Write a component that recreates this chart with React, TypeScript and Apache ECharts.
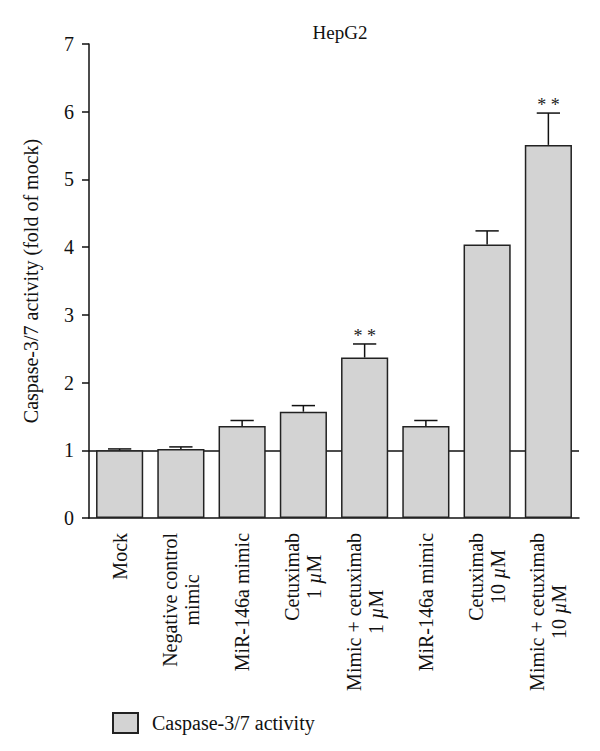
import React, { useEffect, useRef } from "react";
import * as echarts from "echarts";

const categories = [
  "Mock",
  "Negative control\nmimic",
  "MiR-146a mimic",
  "Cetuximab\n1 µM",
  "Mimic + cetuximab\n1 µM",
  "MiR-146a mimic",
  "Cetuximab\n10 µM",
  "Mimic + cetuximab\n10 µM",
];
const means = [1.0, 1.02, 1.36, 1.57, 2.37, 1.36, 4.04, 5.51];
const errors = [0.02, 0.03, 0.08, 0.09, 0.2, 0.08, 0.2, 0.47];
const significance = ["", "", "", "", "* *", "", "", "* *"];
const yTicks = { min: 0, max: 7, interval: 1 };
const seriesName = "Caspase-3/7 activity";
const yAxisName = "Caspase-3/7 activity (fold of mock)";
const titleText = "HepG2";
const referenceValue = 1;

const FONT = "Liberation Serif";

function formatCategory(value: string): string {
  return value
    .split("\n")
    .map((line) => {
      const parts = line.split("µ");
      return parts.map((p) => (p ? `{c|${p}}` : "")).join("{i|µ}");
    })
    .join("\n");
}

export default function App() {
  const ref = useRef<HTMLDivElement>(null);
  useEffect(() => {
    if (!ref.current) return;
    const chart = echarts.init(ref.current, null, { renderer: "svg" });
    const errData = means.map((m, i) => [i, m, errors[i]]);
    chart.setOption({
      animation: false,
      backgroundColor: "#ffffff",
      textStyle: { fontFamily: FONT, color: "#111" },
      title: {
        text: titleText,
        left: 335,
        top: 18,
        textAlign: "center",
        textStyle: { fontFamily: FONT, fontSize: 19, fontWeight: "normal", color: "#111" },
      },
      legend: {
        left: 107,
        top: 707,
        icon: "rect",
        itemWidth: 25,
        itemHeight: 20,
        data: [seriesName],
        textStyle: { fontFamily: FONT, fontSize: 20, color: "#111", padding: [0, 0, 0, 9] },
      },
      grid: { left: 89, right: 21, top: 44, bottom: 233, containLabel: false },
      xAxis: {
        type: "category",
        data: categories,
        boundaryGap: true,
        axisLine: { lineStyle: { color: "#111", width: 1.5 } },
        axisTick: { alignWithLabel: true, length: 8, lineStyle: { color: "#111", width: 1.5 } },
        axisLabel: {
          rotate: 90,
          interval: 0,
          margin: 15,
          formatter: (v: string) => formatCategory(v),
          rich: {
            c: { fontFamily: FONT, fontSize: 20, color: "#111", align: "center", lineHeight: 22 },
            i: { fontFamily: FONT, fontSize: 20, color: "#111", fontStyle: "italic", align: "center", lineHeight: 22 },
          },
        },
      },
      yAxis: {
        type: "value",
        min: yTicks.min,
        max: yTicks.max,
        interval: yTicks.interval,
        name: yAxisName,
        nameLocation: "middle",
        nameGap: 48,
        nameTextStyle: { fontFamily: FONT, fontSize: 20, color: "#111" },
        splitLine: { show: false },
        axisLine: { show: true, lineStyle: { color: "#111", width: 1.5 } },
        axisTick: { show: true, length: 7, lineStyle: { color: "#111", width: 1.5 } },
        axisLabel: { fontFamily: FONT, fontSize: 20, color: "#111", margin: 15 },
      },
      series: [
        {
          type: "line",
          data: [],
          z: 1,
          silent: true,
          markLine: {
            z: 1,
            silent: true,
            symbol: "none",
            label: { show: false },
            lineStyle: { color: "#111", width: 1.5, type: "solid" },
            data: [{ yAxis: referenceValue }],
          },
        },
        {
          name: seriesName,
          type: "bar",
          z: 5,
          data: means,
          barWidth: "77%",
          itemStyle: { color: "#d3d3d3", borderColor: "#222", borderWidth: 1.5 },
        },
        {
          type: "custom",
          z: 6,
          silent: true,
          data: errData,
          renderItem: (params: any, api: any) => {
            const x = api.value(0);
            const v = api.value(1);
            const e = api.value(2);
            const p0 = api.coord([x, v]);
            const p1 = api.coord([x, v + e]);
            const half = api.size([1, 0])[0] * 0.19;
            const children: any[] = [
              { type: "line", shape: { x1: p0[0], y1: p0[1], x2: p1[0], y2: p1[1] }, style: { stroke: "#111", lineWidth: 1.5 } },
              { type: "line", shape: { x1: p1[0] - half, y1: p1[1], x2: p1[0] + half, y2: p1[1] }, style: { stroke: "#111", lineWidth: 1.5 } },
            ];
            const sig = significance[params.dataIndex];
            if (sig) {
              children.push({
                type: "text",
                style: {
                  text: sig,
                  x: p1[0],
                  y: p1[1] + 1,
                  textAlign: "center",
                  textVerticalAlign: "bottom",
                  fontFamily: FONT,
                  fontSize: 18,
                  fill: "#222",
                },
              });
            }
            return { type: "group", children };
          },
        },
      ],
    });
    return () => chart.dispose();
  }, []);
  return (
    <div
      ref={ref}
      style={{ position: "fixed", left: 0, top: 0, width: 600, height: 751 }}
    />
  );
}
